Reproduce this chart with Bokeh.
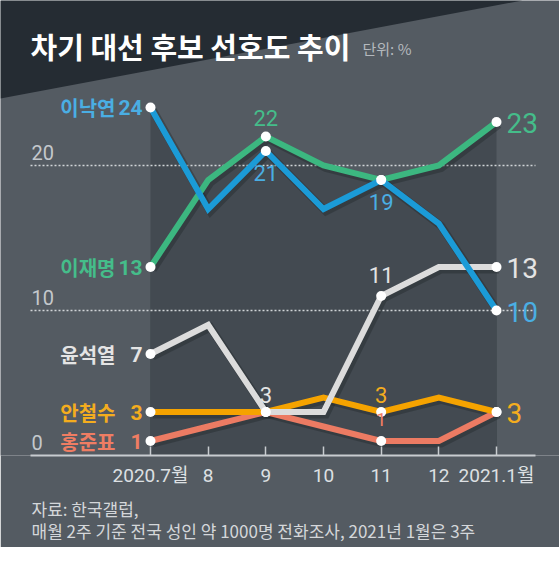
import numpy as np
from bokeh.plotting import figure
from bokeh.models import FixedTicker, Title, Range1d
from bokeh.core.properties import value
from bokeh.embed import file_html
from bokeh.resources import INLINE

# ---------------- data ----------------
months = ["2020.7월", "8", "9", "10", "11", "12", "2021.1월"]
lee_nakyon = [24, 17, 21, 17, 19, 16, 10]
lee_jaemyung = [13, 19, 22, 20, 19, 20, 23]
yoon_seokyoul = [7, 9, 3, 3, 11, 13, 13]
ahn_cheolsoo = [3, 3, 3, 4, 3, 4, 3]
hong_joonpyo = [1, 2, 3, 2, 1, 1, 3]
series_names = ["이낙연", "이재명", "윤석열", "안철수", "홍준표"]
marked_months = [0, 2, 4, 6]
y_tick_values = [0, 10, 20]
y_tick_labels = ["0", "10", "20"]
grid_values = [10, 20]

title_text = "차기 대선 후보 선호도 추이"
unit_text = "단위: %"
source_line1 = "자료: 한국갤럽,"
source_line2 = "매월 2주 기준 전국 성인 약 1000명 전화조사, 2021년 1월은 3주"

# ---------------- style ----------------
BG = "#545b62"
BAND = "#434a51"
HEADER = "#252c33"
line_colors = ["#1b9bd7", "#3cb780", "#dcdcdc", "#f5a300", "#ec7b63"]
text_colors = ["#4aaee3", "#45bd8a", "#e4e4e4", "#f4ad1e", "#ef7d63"]
KR = "Noto Sans CJK KR"
NUM = "Roboto"

series = [lee_nakyon, lee_jaemyung, yoon_seokyoul, ahn_cheolsoo, hong_joonpyo]
idx = list(range(len(months)))

# layout helpers: reference pixel -> data coordinates
X0, DX = 150.0, 346.0 / 6
Y0, DY = 455.0, 14.5
def px_x(px):
    return (px - X0) / DX
def px_y(py):
    return (Y0 - py) / DY

p = figure(frame_width=559, frame_height=455,
           x_range=Range1d(px_x(0), px_x(559)), y_range=Range1d(0, px_y(0)),
           min_border=0, min_border_bottom=28,
           toolbar_location=None, output_backend="svg",
           y_axis_location=None,
           background_fill_color=BG, border_fill_color=BG,
           outline_line_color=None)
p.grid.visible = False

# header dark triangle
p.patch([px_x(0), px_x(522), px_x(0)], [px_y(0), px_y(0), px_y(98)],
        fill_color=HEADER, line_color=None)

# darker band under the lines
for s in series:
    p.varea(x=idx, y1=0, y2=s, fill_color=BAND)

# dotted gridlines
p.segment(x0=px_x(30), x1=px_x(535), y0=grid_values, y1=grid_values,
          line_color="#d0d4d7", line_width=1.3, line_dash="2 2")

# y tick labels
p.text(x=[px_x(31)] * 3, y=y_tick_values, text=y_tick_labels,
       text_font=value(NUM), text_font_size="20px", text_color="#c4c8cc",
       text_baseline="middle", text_align="left", y_offset=-13)

# lines: shadows then lines
draw_order = [4, 3, 2, 1, 0]
for k in draw_order:
    s = np.array(series[k], dtype=float)
    p.line(np.array(idx) + 0.04, s - 0.17, line_color="#1c2126", line_alpha=0.35,
           line_width=8, line_join="miter")
for k in draw_order:
    p.line(idx, series[k], line_color=line_colors[k], line_width=6, line_join="miter")
    mx = [idx[i] for i in marked_months]
    my = [series[k][i] for i in marked_months]
    p.scatter(mx, my, size=10, fill_color="white", line_color=None)

# left labels (names + first values)
first_vals = [s[0] for s in series]
p.text(x=[idx[0]] * 5, y=first_vals, text=series_names,
       text_font=value(KR), text_font_size="20px", text_font_style="bold",
       text_color=text_colors, text_align="right", text_baseline="middle",
       x_offset=-35)
p.text(x=[idx[0]] * 5, y=first_vals, text=[str(v) for v in first_vals],
       text_font=value(NUM), text_font_size="21px", text_font_style="bold",
       text_color=text_colors, text_align="right", text_baseline="middle",
       x_offset=-8)

# right labels (last values)
last_vals = [s[-1] for s in series[:4]]
p.text(x=[idx[-1]] * 4, y=last_vals, text=[str(v) for v in last_vals],
       text_font=value(NUM), text_font_size="28px",
       text_color=text_colors[:4], text_align="left", text_baseline="middle",
       x_offset=10, y_offset=1)

# inner value labels: (series index, month index, pixel offset)
inner = [(1, 2, -19), (0, 2, 22), (0, 4, 22), (2, 2, -17), (2, 4, -21),
         (3, 4, -17), (4, 4, -22)]
for k, m, off in inner:
    p.text(x=[idx[m]], y=[series[k][m]], text=[str(series[k][m])],
           text_font=value(NUM), text_font_size="22px" if k != 4 else "19px",
           text_color=text_colors[k], text_align="center", text_baseline="middle",
           y_offset=off)

# title and unit
p.text(x=[px_x(30)], y=[px_y(45)], text=[title_text],
       text_font=value(KR), text_font_size="29px", text_font_style="bold",
       text_color="white", text_baseline="middle", text_align="left")
p.text(x=[px_x(362)], y=[px_y(48)], text=[unit_text],
       text_font=value(KR), text_font_size="15px",
       text_color="#b4b9be", text_baseline="middle", text_align="left")

# x axis
ax = p.xaxis[0]
ax.ticker = FixedTicker(ticks=idx)
ax.major_label_overrides = {i: lab for i, lab in zip(idx, months)}
ax.bounds = (px_x(30), px_x(535))
ax.axis_line_color = "#c8ccd0"
ax.axis_line_width = 2
ax.major_tick_line_color = "#c8ccd0"
ax.major_tick_line_width = 1.5
ax.major_tick_in = 9
ax.major_tick_out = 0
ax.minor_tick_line_color = None
ax.major_label_text_font = "Roboto, Noto Sans CJK KR, sans-serif"
ax.major_label_text_font_size = "19px"
ax.major_label_text_color = "#dde0e3"
ax.major_label_standoff = 8

# source notes (two lines in one title)
t1 = Title(text=source_line1 + "\n" + source_line2, align="left", offset=31,
           text_font="Noto Sans CJK KR, sans-serif", text_font_size="17px",
           text_font_style="normal",
           text_color="#d4d7da", text_line_height=0.88, standoff=9)
p.add_layout(t1, "below")

open("out.html", "w").write(file_html(p, INLINE))
